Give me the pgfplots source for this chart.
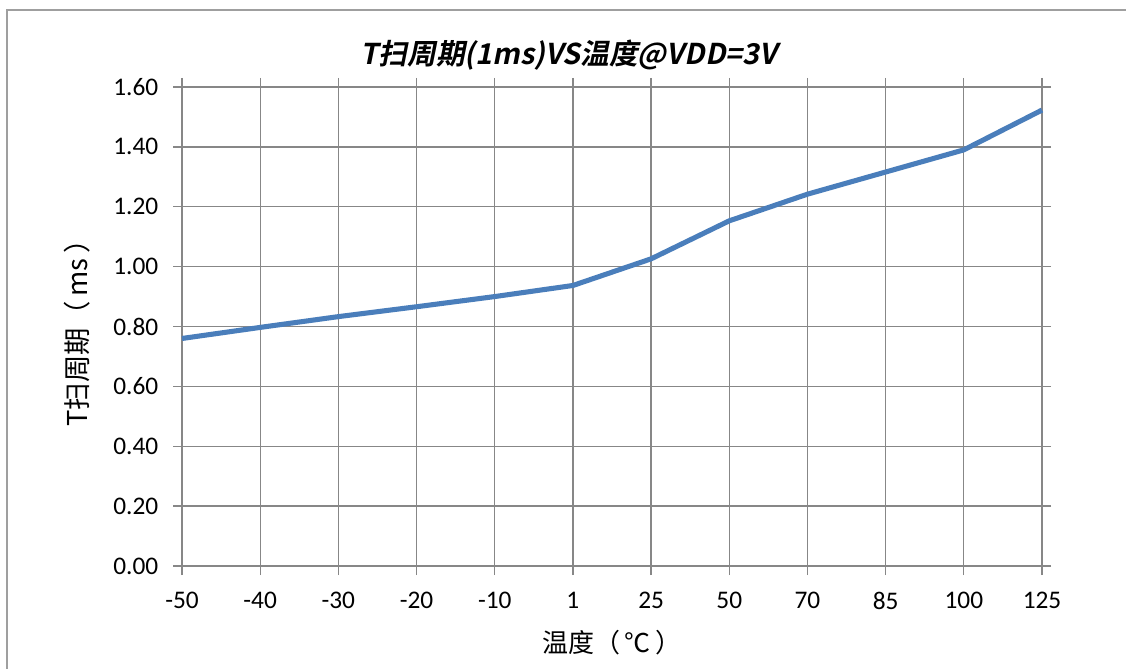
\documentclass[border=0pt]{standalone}
\usepackage{fontspec}
\setmainfont{Carlito}
\newfontfamily\cjk{Noto Sans CJK SC}
\newfontfamily\cjkbi{Noto Sans CJK SC Bold}[FakeSlant=0.2]
\usepackage{pgfplots}
\pgfplotsset{compat=1.18}
\definecolor{line}{HTML}{4A7EBB}
\definecolor{gridc}{HTML}{878787}
\newlength\px
\setlength\px{0.75pt}

\begin{document}
\begin{tikzpicture}[x=\px,y=\px]
\useasboundingbox (0,0) rectangle (1126,668);
\draw[gridc!80, line width=1.5\px] (7,658) rectangle (1140,-10);
\begin{axis}[
  at={(182\px,102\px)}, anchor=south west,
  width=860\px, height=479\px, scale only axis,
  xmin=0, xmax=11, ymin=0, ymax=1.6,
  xtick={0,...,11},
  xticklabels={-50,-40,-30,-20,-10,1,25,50,70,85,100,125},
  ytick={0,0.2,...,1.6},
  /pgf/number format/.cd, fixed, fixed zerofill, precision=2, assume math mode=true,
  /pgfplots/.cd,
  grid=major,
  major grid style={gridc, line width=1.3\px},
  axis line style={gridc, line width=1.3\px},
  tick style={gridc, line width=1.3\px},
  tick align=outside,
  major tick length=9\px,
  ticklabel style={font=\fontsize{19}{22}\selectfont, text=black},
  yticklabel style={xshift=-10\px},
  xticklabel style={yshift=-12\px},
  title={\cjkbi T扫周期(1ms)VS温度@VDD=3V},
  title style={font=\fontsize{21.5}{24}\selectfont, at={(0.45,1)}, yshift=4\px},
  xlabel={\cjk 温度（\,℃\,）},
  ylabel={\cjk T扫周期（\,ms\,）},
  xlabel style={font=\fontsize{19.5}{22}\selectfont, yshift=-12\px},
  ylabel style={font=\fontsize{20.5}{23}\selectfont, yshift=14\px},
  clip=false,
]
\addplot[line, line width=3.8pt, line join=round] coordinates {
  (0,0.760) (1,0.797) (2,0.833) (3,0.866) (4,0.900) (5,0.937)
  (6,1.026) (7,1.153) (8,1.242) (9,1.316) (10,1.390) (11,1.523)
};
\end{axis}
\end{tikzpicture}
\end{document}
